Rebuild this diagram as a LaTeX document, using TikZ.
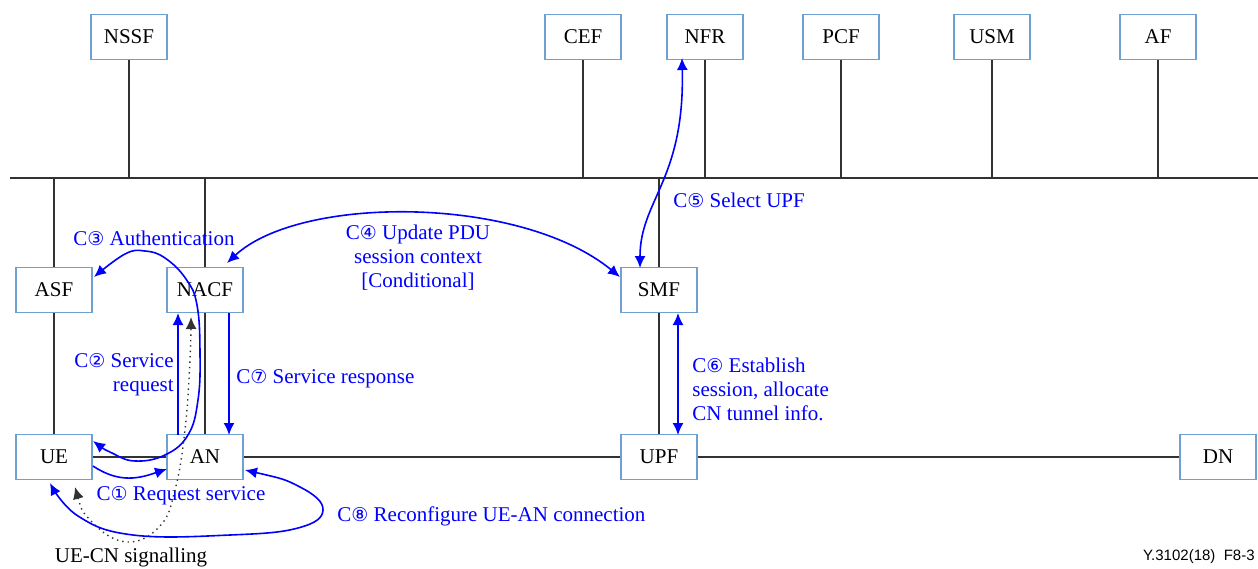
\documentclass[tikz,border=0pt]{standalone}
\usepackage{fontspec}
\setmainfont{LiberationSerif}[Extension=.ttf, UprightFont=*-Regular, BoldFont=*-Bold, ItalicFont=*-Italic, BoldItalicFont=*-BoldItalic]
\newfontfamily\symf{DejaVu Sans}
\newfontfamily\arialf{Liberation Sans}
\usetikzlibrary{arrows.meta}
\definecolor{boxline}{RGB}{110,160,210}
\definecolor{bluec}{RGB}{0,0,255}
\definecolor{linec}{RGB}{50,50,50}
\newcommand{\cnum}[1]{{\symf\fontsize{9.5}{11}\selectfont #1}}
\tikzset{
  fbox/.style={draw=boxline, line width=0.8pt, fill=white, minimum width=38pt, minimum height=22.5pt, inner sep=0pt, font=\rmfamily\fontsize{10.5}{12}\selectfont},
  wire/.style={draw=linec, line width=0.75pt},
  bl/.style={draw=bluec, line width=0.8pt},
  blt/.style={text=bluec, font=\rmfamily\fontsize{10.5}{12}\selectfont, inner sep=0pt},
  tip/.style={arrows={-Latex[length=6pt,width=5.5pt]}},
  tips/.style={arrows={Latex[length=6pt,width=5.5pt]-Latex[length=6pt,width=5.5pt]}},
}
\begin{document}
\begin{tikzpicture}[x=0.5pt,y=-0.5pt]
\useasboundingbox (0,0) rectangle (1258,568);
% bus
\coordinate (busL) at (10,178);
\coordinate (busR) at (1258,178);
\draw[wire] (busL) -- (busR);
% top boxes
\node[fbox] (NSSF) at (129,37) {NSSF};
\node[fbox] (CEF) at (583,37) {CEF};
\node[fbox] (NFR) at (705,37) {NFR};
\node[fbox] (PCF) at (841,37) {PCF};
\node[fbox] (USM) at (992,37) {USM};
\node[fbox] (AF) at (1158,37) {AF};
\foreach \n in {NSSF,CEF,NFR,PCF,USM,AF}{
  \draw[wire] (\n.south) -- (\n.south |- busL);
}
% lower boxes
\node[fbox] (ASF) at (54,290) {ASF};
\node[fbox] (NACF) at (205,290) {NACF};
\node[fbox] (SMF) at (659,290) {SMF};
\node[fbox] (UE) at (54,457) {UE};
\node[fbox] (AN) at (205,457) {AN};
\node[fbox] (UPF) at (659,457) {UPF};
\node[fbox] (DN) at (1218,457) {DN};
\foreach \a/\b in {ASF/UE,NACF/AN,SMF/UPF}{
  \draw[wire] (\a.north |- busL) -- (\a.north);
  \draw[wire] (\a.south) -- (\b.north);
}
\draw[wire] (UE.east) -- (AN.west);
\draw[wire] (AN.east) -- (UPF.west);
\draw[wire] (UPF.east) -- (DN.west);
% C1
\draw[bl,tip] (93,466) .. controls (120,484) and (140,478) .. (167,469);
\node[blt] (l1) at (181,496) {C\cnum{①} Request service};
% C2
\draw[bl,tip] (178,435) -- (178,313);
\node[blt, anchor=east, align=right] (l2) at (174,375) {C\cnum{②} Service\\request};
% C7
\draw[bl,tip] (229,313) -- (229,435);
\node[blt, anchor=west] (l7) at (236,379) {C\cnum{⑦} Service response};
% C3
\draw[bl,tips] plot[smooth, tension=0.7] coordinates {(93,441) (112,453) (135,461) (165,455) (188,435) (198,400) (200,353) (197,305) (186,279) (165,258) (145,251) (125,254) (94,277)};
\node[blt] (l3) at (154,238) {C\cnum{③} Authentication};
% UE-CN signalling
\draw[linec, line width=0.7pt, dotted, tips] plot[smooth, tension=0.7] coordinates {(75,487) (92,522) (127,542) (160,526) (175,490) (185,430) (190,360) (191,317)};
\node[inner sep=0pt, font=\rmfamily\fontsize{10.5}{12}\selectfont] (lsig) at (131,557) {UE-CN signalling};
% C8
\draw[bl,tips] plot[smooth, tension=0.7] coordinates {(245,470) (300,487) (323,510) (298,528) (230,535) (133,535) (78,516) (50,483)};
\node[blt, anchor=west] (l8) at (337,516) {C\cnum{⑧} Reconfigure UE-AN connection};
% C4
\draw[bl,tips] (227,263) .. controls (300,195) and (520,195) .. (620,277);
\node[blt, align=center] (l4) at (418,258) {C\cnum{④} Update PDU\\session context\\{[Conditional]}};
% C5
\draw[bl,tips] (682,58) .. controls (685,180) and (640,200) .. (640,268);
\node[blt, anchor=west] (l5) at (673,200) {C\cnum{⑤} Select UPF};
% C6
\draw[bl,tips] (678,313) -- (678,435);
\node[blt, anchor=west, align=left] (l6) at (692,389) {C\cnum{⑥} Establish\\session, allocate\\CN tunnel info.};
% figure id
\node[inner sep=0pt, anchor=east, font=\arialf\fontsize{7.5}{9}\selectfont] (fid) at (1255,557) {Y.3102(18)~~F8-3};
\end{tikzpicture}
\end{document}
